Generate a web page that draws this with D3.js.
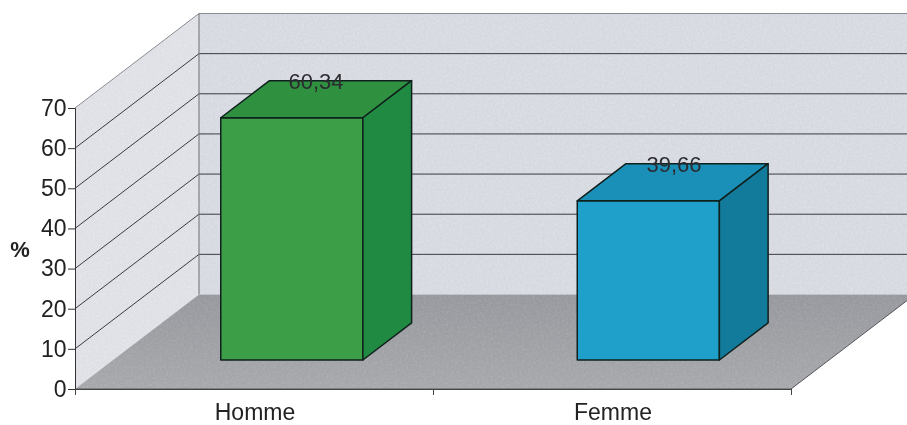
<!DOCTYPE html>
<html><head><meta charset="utf-8">
<script src="https://cdn.jsdelivr.net/npm/d3@7"></script>
<style>html,body{margin:0;padding:0;background:#fff}svg{display:block}text{font-family:"Liberation Sans",Arial,sans-serif}</style>
</head><body><div id="chart"></div>
<script>
const categories = ["Homme", "Femme"];
const values = [60.34, 39.66];
const valueLabels = ["60,34", "39,66"];
const yTicks = [0, 10, 20, 30, 40, 50, 60, 70];
const seriesFront = ["#3c9f48", "#1ea0cb"];
const seriesTop = ["#2f9140", "#1a90b8"];
const seriesSide = ["#208a42", "#127b9c"];

const W = 907, H = 425;
const svg = d3.select("#chart").append("svg").attr("width", W).attr("height", H);
const defs = svg.append("defs");
const fg = defs.append("linearGradient").attr("id", "floor").attr("x1", 0).attr("y1", 0).attr("x2", 0).attr("y2", 1);
fg.append("stop").attr("offset", 0).attr("stop-color", "#96989d");
fg.append("stop").attr("offset", 1).attr("stop-color", "#a6a8ac");
// fine mottling of the printed/scanned surfaces
const grain = defs.append("filter").attr("id", "grain").attr("x", 0).attr("y", 0).attr("width", 1).attr("height", 1);
grain.append("feTurbulence").attr("type", "fractalNoise").attr("baseFrequency", 0.45).attr("numOctaves", 2).attr("seed", 4);
grain.append("feColorMatrix").attr("type", "matrix").attr("values", "0 0 0 0 1  0 0 0 0 1  0 0 0 0 1  1.2 0 0 0 -0.45");
grain.append("feComposite").attr("in2", "SourceAlpha").attr("operator", "in");

const root = svg.append("g").style("filter", "blur(0.35px)");

const x = d3.scaleBand().domain(categories).range([75, 791]);
const xBar = d3.scaleBand().domain(categories).range([75.5, 788.5]);
const xEdge = d3.scaleLinear().domain([0, categories.length]).range([75, 791]);
const y = d3.scaleLinear().domain([0, 70]).range([389, 108]);
// depth axis: 0 = front plane, 1 = back wall
const dx = d3.scaleLinear().domain([0, 1]).range([0, 124]);
const dy = d3.scaleLinear().domain([0, 1]).range([0, -94.5]);
const P = (px, val, d) => [px + dx(d), y(val) + dy(d)];
const poly = pts => pts.map(p => p.join(",")).join(" ");
const yMax = y.domain()[1], xL = x.range()[0], xR = x.range()[1];

const barDepthFront = 0.307, barDepthBack = 0.70, barFrac = 0.397;

const wallPts = poly([P(xL,yMax,1),P(xR,yMax,1),P(xR,0,1),P(xL,0,1)]);
const sidePts = poly([P(xL,yMax,0),P(xL,yMax,1),P(xL,0,1),P(xL,0,0)]);
const floorPts = poly([P(xL,0,0),P(xL,0,1),P(xR,0,1),P(xR,0,0)]);

root.append("polygon").attr("points", wallPts).attr("fill", "#d7d9e1");
root.append("polygon").attr("points", sidePts).attr("fill", "#dfe0e6");
root.append("polygon").attr("points", wallPts).attr("fill", "#000").attr("filter", "url(#grain)").attr("opacity", 0.35);
root.append("polygon").attr("points", sidePts).attr("fill", "#000").attr("filter", "url(#grain)").attr("opacity", 0.35);

// grid lines
const grid = root.append("g").attr("fill", "none");
grid.selectAll("polyline").data(yTicks.slice(1)).join("polyline")
  .attr("points", t => poly([P(xL,t,0),P(xL,t,1),P(xR,t,1)]))
  .attr("stroke", t => t === yMax ? "#8a8b90" : "#3a3b42")
  .attr("stroke-width", 1);
grid.append("line").attr("x1", P(xL,0,1)[0]).attr("x2", P(xL,0,1)[0]).attr("y1", P(xL,yMax,1)[1]).attr("y2", P(xL,0,1)[1]).attr("stroke", "#6d6e74");

// floor
root.append("polygon").attr("points", floorPts).attr("fill", "url(#floor)");
root.append("polygon").attr("points", floorPts).attr("fill", "#000").attr("filter", "url(#grain)").attr("opacity", 0.18);
root.append("polyline").attr("points", poly([P(xR,0,1),P(xR,0,0),P(xL,0,0)])).attr("fill", "none").attr("stroke", "#55565b");

// bars
const bars = root.append("g").attr("stroke", "#10201c").attr("stroke-width", 1.5).attr("stroke-linejoin", "round");
categories.forEach((c, i) => {
  const cx = xBar(c) + xBar.bandwidth() / 2, w = x.bandwidth() * barFrac;
  const l = cx - w / 2, r = cx + w / 2, v = values[i];
  const f = barDepthFront, b = barDepthBack;
  bars.append("polygon").attr("points", poly([P(l,v,f),P(r,v,f),P(r,0,f),P(l,0,f)])).attr("fill", seriesFront[i]);
  bars.append("polygon").attr("points", poly([P(l,v,f),P(l,v,b),P(r,v,b),P(r,v,f)])).attr("fill", seriesTop[i]);
  bars.append("polygon").attr("points", poly([P(r,v,f),P(r,v,b),P(r,0,b),P(r,0,f)])).attr("fill", seriesSide[i]);
});

// value labels
root.append("g").attr("font-size", 22).attr("fill", "#2b2b30").attr("text-anchor", "middle")
  .selectAll("text").data(categories).join("text")
  .attr("x", c => x(c) + x.bandwidth() / 2 + dx(0.5))
  .attr("y", (c, i) => y(values[i]) + dy(barDepthBack) + 8)
  .text((c, i) => valueLabels[i]);

// axes
const yAxis = d3.axisLeft(y).tickValues(yTicks).tickSize(7).tickPadding(1.5);
const gy = root.append("g").attr("transform", `translate(${xL},0)`).call(yAxis);
gy.selectAll("path,line").attr("stroke", "#333");
gy.selectAll("text").attr("font-size", 23).attr("fill", "#222").attr("font-family", '"Liberation Sans",Arial,sans-serif');

const xAxis = d3.axisBottom(xEdge).tickValues(d3.range(categories.length + 1)).tickSize(6).tickFormat("");
const gx = root.append("g").attr("transform", `translate(0,${y(0)})`).call(xAxis);
gx.selectAll("path,line").attr("stroke", "#444");

root.append("g").attr("font-size", 23).attr("fill", "#222").attr("text-anchor", "middle")
  .selectAll("text").data(categories).join("text")
  .attr("x", c => x(c) + x.bandwidth() / 2 + 1).attr("y", 420).text(c => c);

root.append("text").attr("x", 20).attr("y", 257).attr("text-anchor", "middle")
  .attr("font-size", 22).attr("font-weight", "bold").attr("fill", "#222").text("%");
</script></body></html>
